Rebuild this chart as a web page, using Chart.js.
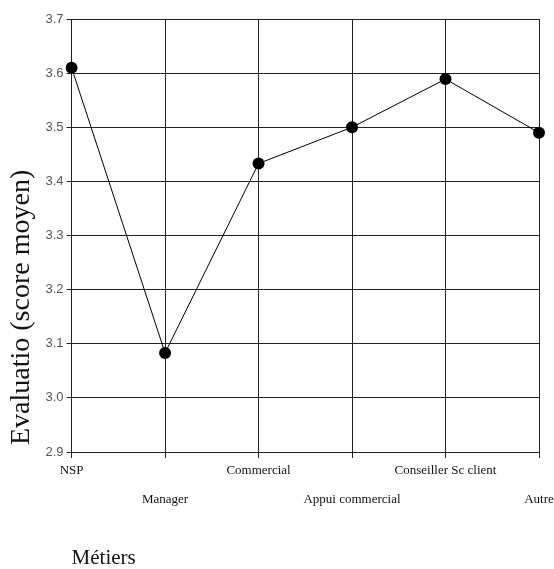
<!DOCTYPE html>
<html>
<head>
<meta charset="utf-8">
<script src="https://cdn.jsdelivr.net/npm/chart.js@4/dist/chart.umd.min.js"></script>
<style>
  html, body { margin: 0; padding: 0; background: #fff; }
  canvas { display: block; }
</style>
</head>
<body>
<canvas id="c" width="554" height="569"></canvas>
<script>
const categories = ['NSP', 'Manager', 'Commercial', 'Appui commercial', 'Conseiller Sc client', 'Autre'];
const scores = [3.61, 3.083, 3.433, 3.50, 3.589, 3.49];
const yMin = 2.9, yMax = 3.7, yStep = 0.1;
const yTitle = ' Evaluatio (score moyen)';
const xTitle = 'Métiers';

const ctx = document.getElementById('c').getContext('2d');
new Chart(ctx, {
  type: 'line',
  data: {
    labels: categories,
    datasets: [{
      data: scores,
      borderColor: '#000',
      borderWidth: 1,
      tension: 0,
      fill: false,
      pointRadius: 6,
      pointHoverRadius: 6,
      pointBackgroundColor: '#000',
      pointBorderWidth: 0
    }]
  },
  options: {
    responsive: false,
    animation: false,
    events: [],
    layout: { padding: { top: 19, right: 15, bottom: 0, left: 0 } },
    plugins: { legend: { display: false }, tooltip: { enabled: false } },
    scales: {
      x: {
        offset: false,
        grid: { color: '#222', lineWidth: 1, drawTicks: true, tickLength: 6, tickColor: '#222' },
        border: { color: '#222', width: 1 },
        ticks: {
          autoSkip: false, maxRotation: 0, minRotation: 0,
          padding: -1.5,
          color: '#111',
          font: { family: 'Liberation Serif', size: 13, lineHeight: '29px' },
          callback: function (v, i) { const l = this.getLabelForValue(v); return i % 2 ? ['', l] : [l]; }
        },
        title: {
          display: true, text: xTitle, align: 'start', color: '#111',
          font: { family: 'Liberation Serif', size: 21, lineHeight: 1 },
          padding: { top: 35, bottom: 0 }
        }
      },
      y: {
        min: yMin, max: yMax,
        grid: { color: '#222', lineWidth: 1, drawTicks: true, tickLength: 5, tickColor: '#222' },
        border: { color: '#222', width: 1 },
        ticks: {
          stepSize: yStep, padding: 3, color: '#555',
          font: { family: 'Liberation Sans', size: 13 },
          callback: v => Number(v).toFixed(1)
        },
        title: {
          display: true, text: yTitle, align: 'start', color: '#111',
          font: { family: 'Liberation Serif', size: 28, lineHeight: 1 },
          padding: { top: 8, bottom: 6.5 }
        }
      }
    }
  }
});
</script>
</body>
</html>
